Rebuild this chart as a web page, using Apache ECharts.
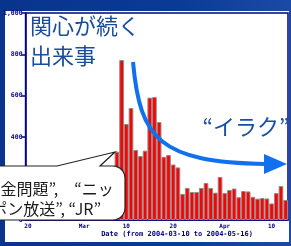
<!DOCTYPE html>
<html>
<head>
<meta charset="utf-8">
<script src="https://cdn.jsdelivr.net/npm/echarts@6/dist/echarts.min.js"></script>
<style>
html, body { margin: 0; padding: 0; width: 291px; height: 246px; overflow: hidden;
  background: linear-gradient(90deg, #08348c 0%, #0a3a98 60%, #1b4aa6 100%); }
#paper { position: absolute; left: 5px; top: 11px; width: 284px; height: 231px; background: #fff; }
#main { position: absolute; left: 0; top: 0; width: 291px; height: 246px; }
</style>
</head>
<body>
<div id="paper"></div>
<div id="main"></div>
<script>
// one bar per day, 2004-02-18 .. 2004-04-13
const days = [
  '02-18','02-19','02-20','02-21','02-22','02-23','02-24','02-25','02-26','02-27','02-28','02-29',
  '03-01','03-02','03-03','03-04','03-05','03-06','03-07','03-08','03-09','03-10','03-11','03-12',
  '03-13','03-14','03-15','03-16','03-17','03-18','03-19','03-20','03-21','03-22','03-23','03-24',
  '03-25','03-26','03-27','03-28','03-29','03-30','03-31','04-01','04-02','04-03','04-04','04-05',
  '04-06','04-07','04-08','04-09','04-10','04-11','04-12','04-13'
];
// article counts (the first bars sit behind the callout, estimated)
const counts = [
  60, 85, 70, 95, 110, 80, 75, 120, 140, 105, 90, 130, 150, 125, 160, 145, 170, 190, 210,
  330, 773, 464, 541, 338, 309, 335, 591, 594, 473, 305, 314, 268, 254,
  126, 155, 135, 135, 155, 179, 155, 132, 208, 130, 145, 152, 110, 140,
  138, 112, 103, 106, 104, 80, 130, 164, 97
];
// x tick labels, by bar index
const tickLabels = { 0: '20', 12: 'Mar', 21: '10', 31: '20', 42: 'Apr', 52: '10' };
const axisTitle = 'Date (from 2004-03-10 to 2004-05-16)';

const navy = '#000080';
const jp = '"Noto Sans CJK JP", sans-serif';
let chart = echarts.init(document.getElementById('main'));

// callout outline: box running off the left edge, pointer up to the bars
function calloutPoints() {
    let pts = [[-20, 166], [57, 166], [115, 152], [100, 166]];
    for (let a = -90; a <= 0; a += 15) {
        let r = a * Math.PI / 180;
        pts.push([113 + 12 * Math.cos(r), 178 + 12 * Math.sin(r)]);
    }
    for (let a = 0; a <= 90; a += 15) {
        let r = a * Math.PI / 180;
        pts.push([113 + 12 * Math.cos(r), 208 + 12 * Math.sin(r)]);
    }
    pts.push([-20, 220]);
    return pts;
}

let option = {
    animation: false,
    grid: { left: 24, right: 3, top: 13, bottom: 26, show: true, borderColor: navy, borderWidth: 1.5 },
    xAxis: {
        type: 'category',
        data: days,
        axisLine: { lineStyle: { color: navy, width: 1.5 } },
        axisTick: { show: false },
        axisLabel: {
            interval: 0,
            formatter: function (v, i) { return tickLabels[i] || ''; },
            fontSize: 6, fontWeight: 'bold', color: navy, margin: 3,
            fontFamily: 'DejaVu Sans Mono'
        }
    },
    yAxis: {
        type: 'value',
        min: 0, max: 1000, interval: 200,
        splitLine: { show: false },
        axisLine: { show: true, lineStyle: { color: navy, width: 1.5 } },
        axisTick: { show: true, length: 4, lineStyle: { color: navy, width: 1.5 } },
        axisLabel: { fontSize: 6.5, fontWeight: 'bold', color: navy, margin: 3, fontFamily: 'DejaVu Sans Mono' }
    },
    series: [{
        type: 'bar',
        data: counts,
        barCategoryGap: '0%',
        itemStyle: { color: '#ff0000', borderColor: '#8c8c8c', borderWidth: 1 }
    }],
    graphic: [
        { type: 'text', x: 30, y: 26, z: 100,
          style: { text: '関心が続く', fill: '#1b4c9c', font: '22px ' + jp, textVerticalAlign: 'middle' } },
        { type: 'text', x: 30, y: 56, z: 100,
          style: { text: '出来事', fill: '#1b4c9c', font: '22px ' + jp, textVerticalAlign: 'middle' } },
        { type: 'text', x: 246, y: 127, z: 100,
          style: { text: '“イラク”', fill: '#1b4ea8', font: '22px ' + jp, textAlign: 'center', textVerticalAlign: 'middle' } },
        { type: 'bezierCurve', z: 90,
          shape: { x1: 133, y1: 62, cpx1: 140, cpy1: 140, cpx2: 160, cpy2: 162, x2: 266, y2: 164 },
          style: { stroke: '#1170ee', lineWidth: 4, fill: null } },
        { type: 'polygon', z: 90,
          shape: { points: [[264, 154], [287, 164], [264, 174]] },
          style: { fill: '#1170ee' } },
        { type: 'polygon', z: 100,
          shape: { points: calloutPoints() },
          style: { fill: '#fff', stroke: '#222', lineWidth: 1.2 } },
        { type: 'text', x: -23, y: 189, z: 101,
          style: { text: '“年金問題”,\u3000“ニッ', fill: '#1a1a1a', font: '16px ' + jp, textVerticalAlign: 'middle' } },
        { type: 'text', x: 101, y: 209, z: 101,
          style: { text: 'ポン放送”, “JR”', fill: '#1a1a1a', font: '16px ' + jp, textAlign: 'right', textVerticalAlign: 'middle' } },
        { type: 'text', x: 177, y: 234, z: 100,
          style: { text: axisTitle, fill: navy, font: 'bold 7px "DejaVu Sans Mono"', textAlign: 'center', textVerticalAlign: 'middle' } }
    ]
};

chart.setOption(option);
</script>
</body>
</html>
